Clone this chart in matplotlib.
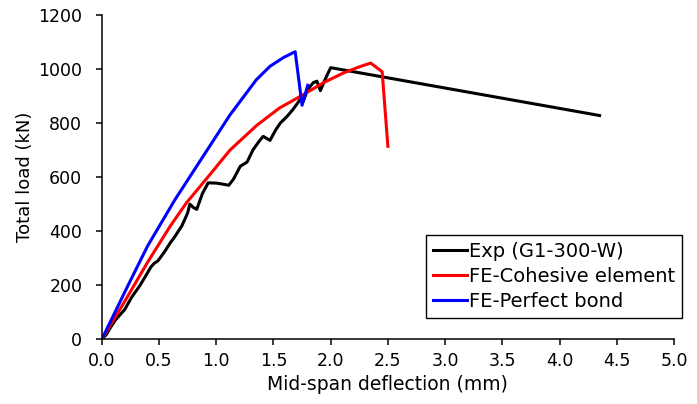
import matplotlib
matplotlib.use("Agg")
import matplotlib.pyplot as plt

plt.rcParams["font.family"] = ["DejaVu Sans"]

# experimental curve (G1-300-W)
exp_x = [0.0, 0.04, 0.07, 0.12, 0.2, 0.26, 0.33, 0.38, 0.43, 0.46, 0.49, 0.55,
         0.6, 0.64, 0.7, 0.75, 0.77, 0.8, 0.83, 0.88, 0.93, 1.0, 1.06, 1.11,
         1.15, 1.21, 1.27, 1.32, 1.37, 1.41, 1.47, 1.52, 1.56, 1.62, 1.67,
         1.73, 1.76, 1.8, 1.85, 1.88, 1.91, 1.95, 2.0, 4.35]
exp_y = [0, 18, 40, 72, 110, 155, 197, 232, 268, 282, 290, 325,
         358, 381, 420, 467, 500, 488, 481, 540, 579, 578, 574, 570,
         592, 640, 656, 700, 730, 751, 736, 775, 800, 825, 850,
         885, 880, 925, 950, 955, 920, 960, 1005, 828]

# FE - cohesive element
coh_x = [0.0, 0.2, 0.4, 0.6, 0.74, 0.95, 1.12, 1.35, 1.55, 1.76, 1.94, 2.11,
         2.25, 2.35, 2.45, 2.5]
coh_y = [0, 140, 285, 420, 505, 612, 700, 790, 855, 905, 950, 985,
         1008, 1022, 990, 714]

# FE - perfect bond
pb_x = [0.0, 0.23, 0.4, 0.64, 0.89, 1.12, 1.35, 1.47, 1.59, 1.69, 1.75, 1.8]
pb_y = [0, 200, 345, 517, 680, 830, 960, 1010, 1043, 1064, 866, 940]

fig = plt.figure(figsize=(6.97, 4.04), dpi=100)
ax = fig.add_axes([0.146, 0.16, 0.821, 0.803])

ax.plot(exp_x, exp_y, color="black", lw=2.2, label="Exp (G1-300-W)")
ax.plot(coh_x, coh_y, color="#ff0000", lw=2.2, label="FE-Cohesive element")
ax.plot(pb_x, pb_y, color="#0000ff", lw=2.2, label="FE-Perfect bond")

ax.set_xlim(0, 5)
ax.set_ylim(0, 1200)
ax.set_xticks([0.0, 0.5, 1.0, 1.5, 2.0, 2.5, 3.0, 3.5, 4.0, 4.5, 5.0])
ax.set_xticklabels(["%.1f" % v for v in ax.get_xticks()])
ax.set_yticks(range(0, 1201, 200))
for s in ["top", "right"]:
    ax.spines[s].set_visible(False)
for s in ["left", "bottom"]:
    ax.spines[s].set_linewidth(1.1)
ax.tick_params(direction="out", length=4, width=1.1, labelsize=12.5, colors="black")
ax.tick_params(axis="y", pad=10)
ax.tick_params(axis="x", pad=5)
ax.set_xlabel("Mid-span deflection (mm)", fontsize=13.5)
ax.set_ylabel("Total load (kN)", fontsize=13)
ax.xaxis.set_label_coords(0.5, -0.14)
ax.xaxis.label.set_va("center")
ax.yaxis.set_label_coords(-0.134, 0.5)
ax.yaxis.label.set_va("center")

leg = ax.legend(loc="upper left", bbox_to_anchor=(425.7 / 697, 1 - 235 / 404),
                bbox_transform=fig.transFigure, fontsize=14, fancybox=False,
                framealpha=1, edgecolor="black", handlelength=1.75,
                handletextpad=0.15, labelspacing=0.32, borderpad=0.35,
                borderaxespad=0)
leg.get_frame().set_linewidth(1.0)

fig.savefig("out.png", dpi=100)
